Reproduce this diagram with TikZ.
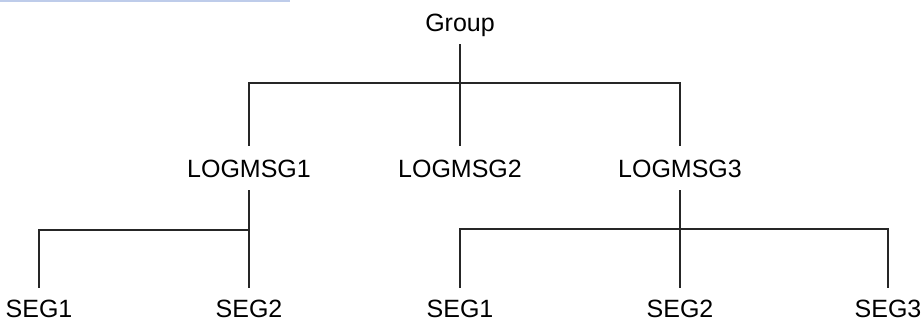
\documentclass[tikz,border=0pt]{standalone}
\usepackage{fontspec}
\setmainfont{Liberation Sans}
\usepackage{tikz}
\usetikzlibrary{positioning, calc}

\definecolor{rulecol}{RGB}{190,204,234}

\begin{document}
\begin{tikzpicture}[x=1pt, y=-1pt,
        lbl/.style={font=\fontsize{25}{30}\selectfont, text height=18pt, text depth=0pt,
                    inner sep=0pt},
        br/.style={line width=1.7pt, black!85},
        gap/.style={shorten <=13pt, shorten >=13pt},
        gapseg/.style={shorten <=13pt, shorten >=11pt}]
        % fix the page
        \useasboundingbox (0,0) rectangle (924,324);

        % rule at the top
        \draw[rulecol, line width=2pt] (0,1) -- (290,1);

        % the names
        \node[lbl] (group) at (460,22)  {Group};
        \node[lbl] (msg1)  at (249,168) {LOGMSG1};
        \node[lbl] (msg2)  at (460,168) {LOGMSG2};
        \node[lbl] (msg3)  at (680,168) {LOGMSG3};
        \node[lbl] (segA)  at (39,308)  {SEG1};
        \node[lbl] (segB)  at (249,308) {SEG2};
        \node[lbl] (segC)  at (460,308) {SEG1};
        \node[lbl] (segD)  at (680,308) {SEG2};
        \node[lbl] (segE)  at (888,308) {SEG3};

        % where the branches meet
        \coordinate (top)   at (460,83);
        \coordinate (left)  at (249,230);
        \coordinate (right) at (680,229);

        % the branches
        \draw[br, gap] (group) -- (msg2);
        \draw[br, gap] (msg1) |- (top) -| (msg3);
        \draw[br, gapseg] (msg1) -- (segB);
        \draw[br, shorten <=11pt] (segA) |- (left);
        \draw[br, gapseg] (msg3) -- (segD);
        \draw[br, shorten <=11pt, shorten >=11pt] (segC) |- (right) -| (segE);
\end{tikzpicture}
\end{document}
